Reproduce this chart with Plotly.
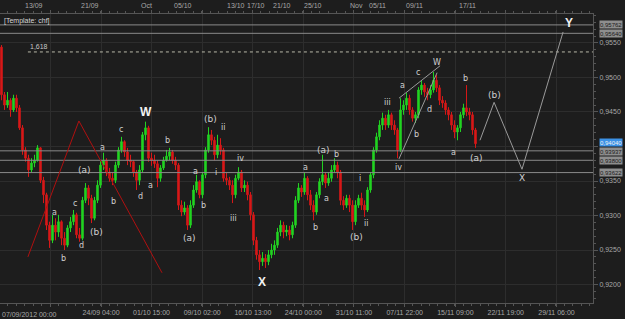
import plotly.graph_objects as go

# ---------------- data ----------------
open_ = [0.9544, 0.9475, 0.9460, 0.9467, 0.9453, 0.9470, 0.9456, 0.9427, 0.9395, 0.9383,
         0.9366, 0.9376, 0.9380, 0.9398, 0.9351, 0.9330, 0.9286, 0.9264, 0.9286, 0.9276,
         0.9291, 0.9267, 0.9257, 0.9282, 0.9291, 0.9301, 0.9272, 0.9267, 0.9322, 0.9340,
         0.9325, 0.9296, 0.9322, 0.9344, 0.9373, 0.9380, 0.9363, 0.9354, 0.9351, 0.9373,
         0.9395, 0.9407, 0.9392, 0.9380, 0.9378, 0.9363, 0.9351, 0.9366, 0.9417, 0.9427,
         0.9383, 0.9380, 0.9375, 0.9354, 0.9369, 0.9380, 0.9386, 0.9392, 0.9380, 0.9373,
         0.9315, 0.9305, 0.9311, 0.9286, 0.9315, 0.9337, 0.9349, 0.9330, 0.9359, 0.9395,
         0.9417, 0.9409, 0.9388, 0.9402, 0.9395, 0.9354, 0.9351, 0.9344, 0.9330, 0.9354,
         0.9363, 0.9340, 0.9344, 0.9330, 0.9301, 0.9264, 0.9243, 0.9233, 0.9238, 0.9233,
         0.9243, 0.9250, 0.9257, 0.9276, 0.9286, 0.9276, 0.9279, 0.9272, 0.9286, 0.9322,
         0.9340, 0.9334, 0.9354, 0.9330, 0.9315, 0.9305, 0.9330, 0.9349, 0.9359, 0.9347,
         0.9354, 0.9366, 0.9373, 0.9363, 0.9322, 0.9315, 0.9325, 0.9315, 0.9291, 0.9315,
         0.9325, 0.9315, 0.9308, 0.9337, 0.9359, 0.9395, 0.9414, 0.9431, 0.9441, 0.9431,
         0.9446, 0.9431, 0.9424, 0.9395, 0.9453, 0.9460, 0.9470, 0.9453, 0.9441, 0.9446,
         0.9482, 0.9489, 0.9479, 0.9475, 0.9482, 0.9496, 0.9485, 0.9467, 0.9463, 0.9453,
         0.9446, 0.9431, 0.9421, 0.9427, 0.9446, 0.9456, 0.9450, 0.9446, 0.9424]

high = [0.9547, 0.9479, 0.9479, 0.9470, 0.9475, 0.9475, 0.9460, 0.9431, 0.9399, 0.9388,
        0.9383, 0.9388, 0.9402, 0.9399, 0.9356, 0.9333, 0.9291, 0.9301, 0.9296, 0.9301,
        0.9293, 0.9276, 0.9286, 0.9298, 0.9308, 0.9304, 0.9282, 0.9327, 0.9347, 0.9344,
        0.9330, 0.9327, 0.9351, 0.9380, 0.9391, 0.9383, 0.9369, 0.9363, 0.9378, 0.9399,
        0.9414, 0.9409, 0.9398, 0.9388, 0.9380, 0.9366, 0.9373, 0.9421, 0.9436, 0.9430,
        0.9391, 0.9388, 0.9380, 0.9373, 0.9385, 0.9395, 0.9398, 0.9395, 0.9385, 0.9376,
        0.9322, 0.9320, 0.9315, 0.9322, 0.9344, 0.9359, 0.9351, 0.9363, 0.9399, 0.9428,
        0.9424, 0.9414, 0.9417, 0.9412, 0.9398, 0.9362, 0.9356, 0.9351, 0.9359, 0.9370,
        0.9366, 0.9351, 0.9349, 0.9334, 0.9305, 0.9269, 0.9250, 0.9247, 0.9244, 0.9250,
        0.9259, 0.9264, 0.9282, 0.9293, 0.9291, 0.9286, 0.9285, 0.9291, 0.9328, 0.9347,
        0.9344, 0.9363, 0.9357, 0.9337, 0.9322, 0.9334, 0.9354, 0.9388, 0.9363, 0.9363,
        0.9373, 0.9383, 0.9378, 0.9366, 0.9328, 0.9330, 0.9330, 0.9322, 0.9322, 0.9330,
        0.9333, 0.9322, 0.9341, 0.9363, 0.9399, 0.9420, 0.9438, 0.9449, 0.9446, 0.9453,
        0.9449, 0.9438, 0.9427, 0.9470, 0.9467, 0.9478, 0.9475, 0.9457, 0.9450, 0.9486,
        0.9496, 0.9492, 0.9485, 0.9489, 0.9508, 0.9504, 0.9489, 0.9473, 0.9467, 0.9457,
        0.9450, 0.9438, 0.9431, 0.9450, 0.9462, 0.9489, 0.9456, 0.9450, 0.9427]

low = [0.9467, 0.9453, 0.9456, 0.9443, 0.9450, 0.9450, 0.9424, 0.9388, 0.9378, 0.9356,
       0.9363, 0.9370, 0.9378, 0.9347, 0.9318, 0.9279, 0.9253, 0.9260, 0.9264, 0.9269,
       0.9257, 0.9250, 0.9254, 0.9276, 0.9286, 0.9267, 0.9262, 0.9264, 0.9318, 0.9315,
       0.9289, 0.9293, 0.9318, 0.9340, 0.9366, 0.9357, 0.9349, 0.9344, 0.9347, 0.9369,
       0.9391, 0.9385, 0.9373, 0.9370, 0.9356, 0.9337, 0.9344, 0.9363, 0.9409, 0.9378,
       0.9372, 0.9369, 0.9341, 0.9349, 0.9366, 0.9378, 0.9380, 0.9375, 0.9366, 0.9308,
       0.9299, 0.9301, 0.9279, 0.9282, 0.9311, 0.9333, 0.9325, 0.9325, 0.9354, 0.9391,
       0.9402, 0.9380, 0.9383, 0.9388, 0.9349, 0.9344, 0.9337, 0.9318, 0.9325, 0.9351,
       0.9334, 0.9334, 0.9322, 0.9293, 0.9257, 0.9236, 0.9221, 0.9227, 0.9224, 0.9228,
       0.9238, 0.9243, 0.9253, 0.9270, 0.9267, 0.9270, 0.9264, 0.9267, 0.9282, 0.9318,
       0.9327, 0.9330, 0.9322, 0.9308, 0.9293, 0.9301, 0.9325, 0.9344, 0.9340, 0.9343,
       0.9349, 0.9362, 0.9354, 0.9315, 0.9308, 0.9311, 0.9305, 0.9279, 0.9286, 0.9311,
       0.9308, 0.9298, 0.9305, 0.9333, 0.9354, 0.9391, 0.9409, 0.9424, 0.9424, 0.9427,
       0.9424, 0.9417, 0.9383, 0.9392, 0.9446, 0.9453, 0.9446, 0.9436, 0.9434, 0.9441,
       0.9475, 0.9472, 0.9467, 0.9470, 0.9478, 0.9479, 0.9460, 0.9456, 0.9446, 0.9438,
       0.9424, 0.9412, 0.9409, 0.9421, 0.9441, 0.9444, 0.9438, 0.9417, 0.9398]

close = [0.9475, 0.9460, 0.9467, 0.9453, 0.9470, 0.9456, 0.9427, 0.9395, 0.9383, 0.9366,
         0.9376, 0.9380, 0.9398, 0.9351, 0.9330, 0.9286, 0.9264, 0.9286, 0.9276, 0.9291,
         0.9267, 0.9257, 0.9282, 0.9291, 0.9301, 0.9272, 0.9267, 0.9322, 0.9340, 0.9325,
         0.9296, 0.9322, 0.9344, 0.9373, 0.9380, 0.9363, 0.9354, 0.9351, 0.9373, 0.9395,
         0.9407, 0.9392, 0.9380, 0.9378, 0.9363, 0.9351, 0.9366, 0.9417, 0.9427, 0.9383,
         0.9380, 0.9375, 0.9354, 0.9369, 0.9380, 0.9386, 0.9392, 0.9380, 0.9373, 0.9315,
         0.9305, 0.9311, 0.9286, 0.9315, 0.9337, 0.9349, 0.9330, 0.9359, 0.9395, 0.9417,
         0.9409, 0.9388, 0.9402, 0.9395, 0.9354, 0.9351, 0.9344, 0.9330, 0.9354, 0.9363,
         0.9340, 0.9344, 0.9330, 0.9301, 0.9264, 0.9243, 0.9233, 0.9238, 0.9233, 0.9243,
         0.9250, 0.9257, 0.9276, 0.9286, 0.9276, 0.9279, 0.9272, 0.9286, 0.9322, 0.9340,
         0.9334, 0.9354, 0.9330, 0.9315, 0.9305, 0.9330, 0.9349, 0.9359, 0.9347, 0.9354,
         0.9366, 0.9373, 0.9363, 0.9322, 0.9315, 0.9325, 0.9315, 0.9291, 0.9315, 0.9325,
         0.9315, 0.9308, 0.9337, 0.9359, 0.9395, 0.9414, 0.9431, 0.9441, 0.9431, 0.9446,
         0.9431, 0.9424, 0.9395, 0.9453, 0.9460, 0.9470, 0.9453, 0.9441, 0.9446, 0.9482,
         0.9489, 0.9479, 0.9475, 0.9482, 0.9496, 0.9485, 0.9467, 0.9463, 0.9453, 0.9446,
         0.9431, 0.9421, 0.9427, 0.9446, 0.9456, 0.9450, 0.9446, 0.9424, 0.9404]

bars = list(range(len(close)))

# horizontal levels with their boxed price labels
level_prices = [0.95762, 0.95640, 0.93937, 0.93800, 0.93622]
current_price = 0.94040
fib_price = 0.9537
fib_text = "1,618"

# price axis (the 0,9400 label is covered by the price boxes in the reference)
y_tick_values = [0.9200, 0.9250, 0.9300, 0.9350, 0.9400, 0.9450, 0.9500, 0.9550]
y_tick_text = ["0,9200", "0,9250", "0,9300", "0,9350", "", "0,9450", "0,9500", "0,9550"]

# time axis labels (bar position, text)
bottom_tick_bars = [16.2, 33.2, 50.0, 66.9, 83.8, 100.6, 117.5, 134.4, 151.3, 168.1, 185.0]
bottom_tick_text = ["", "24/09 04:00", "01/10 15:00", "09/10 02:00", "16/10 13:00",
                    "24/10 00:00", "31/10 11:00", "07/11 22:00", "15/11 09:00",
                    "22/11 19:00", "29/11 06:00"]
first_time_label = "07/09/2012 00:00"
top_label_bars = [10.8, 29.5, 48.3, 60.5, 78.0, 84.8, 93.5, 103.8, 118.2, 125.3, 137.8, 155.3]
top_label_text = ["13/09", "21/09", "Oct", "05/10", "13/10", "17/10", "21/10", "25/10",
                  "Nov", "05/11", "09/11", "17/11"]

# Elliott wave labels: (text, bar, price, kind)
wave_labels = [
    ("a", 17.5, 0.9305, "s"), ("b", 20.8, 0.9238, "s"), ("c", 24.5, 0.9318, "s"),
    ("d", 26.5, 0.9256, "s"), ("(a)", 27.5, 0.9366, "m"), ("(b)", 31.5, 0.9276, "m"),
    ("a", 33.8, 0.9398, "s"), ("b", 37.2, 0.9321, "s"), ("c", 39.8, 0.9425, "s"),
    ("d", 46.2, 0.9328, "s"), ("W", 48.2, 0.9450, "L"), ("a", 49.5, 0.9343, "s"),
    ("b", 55.2, 0.9409, "s"), ("(a)", 62.5, 0.9267, "m"), ("a", 64.5, 0.9364, "s"),
    ("b", 67.2, 0.9315, "s"), ("(b)", 69.8, 0.9440, "m"), ("i", 71.5, 0.9363, "s"),
    ("ii", 73.8, 0.9427, "s"), ("iii", 77.2, 0.9296, "s"), ("iv", 79.8, 0.9382, "s"),
    ("X", 86.8, 0.9204, "L"), ("a", 101.5, 0.9369, "s"), ("b", 104.8, 0.9283, "s"),
    ("(a)", 107.5, 0.9395, "m"), ("a", 108.5, 0.9325, "s"), ("b", 111.8, 0.9389, "s"),
    ("(b)", 118.5, 0.9269, "m"), ("i", 119.5, 0.9354, "s"), ("ii", 121.5, 0.9288, "s"),
    ("iii", 128.8, 0.9464, "s"), ("iv", 132.2, 0.9370, "s"), ("a", 133.8, 0.9489, "s"),
    ("b", 138.5, 0.9417, "s"), ("c", 138.8, 0.9507, "s"), ("d", 142.8, 0.9454, "s"),
    ("W", 145.2, 0.9522, "s"), ("a", 150.8, 0.9392, "s"), ("b", 154.8, 0.9499, "s"),
    ("(a)", 158.2, 0.9383, "m"), ("(b)", 164.5, 0.9475, "m"), ("X", 173.5, 0.9354, "m"),
    ("Y", 189.2, 0.9579, "L"),
]

# projected path (b) - X - Y
proj_bars = [159.5, 164.2, 173.5, 187.2]
proj_prices = [0.9409, 0.9464, 0.9367, 0.9566]
# red triangle
tri_bars = [8.8, 25.8, 53.5]
tri_prices = [0.9240, 0.9437, 0.9217]
# wedge lines near W
wedge1_bars = [132.5, 146.2]
wedge1_prices = [0.9470, 0.9517]
wedge2_bars = [132.5, 145.2]
wedge2_prices = [0.9382, 0.9507]

# ---------------- styling ----------------
BG = "#1d1d1d"
GRID = "#2d2d2d"
FRAME = "#555555"
TXT = "#a8a8a8"
LBL = "#d0d0d0"
FONT = "Liberation Sans, Arial, sans-serif"
LFONT = "DejaVu Sans, sans-serif"
X_RANGE = [-0.5, 197.17]
Y_RANGE = [0.91732, 0.95920]

fig = go.Figure()

# horizontal level lines
for p in level_prices:
    fig.add_trace(go.Scatter(x=X_RANGE, y=[p, p], mode="lines",
                             line=dict(color="#8a8a8a", width=1), hoverinfo="skip"))
# fib dotted line
fig.add_trace(go.Scatter(x=[tri_bars[0], X_RANGE[1]], y=[fib_price, fib_price], mode="lines",
                         line=dict(color="#b8b8a8", width=1, dash="dot"), hoverinfo="skip"))
# red triangle
fig.add_trace(go.Scatter(x=tri_bars, y=tri_prices, mode="lines",
                         line=dict(color="#b01010", width=1), hoverinfo="skip"))

fig.add_trace(go.Candlestick(
    x=bars, open=open_, high=high, low=low, close=close,
    increasing=dict(line=dict(color="#22d422", width=1), fillcolor="#22d422"),
    decreasing=dict(line=dict(color="#d81818", width=1), fillcolor="#d81818"),
    whiskerwidth=0, hoverinfo="skip"))

# wedge + projection lines
for xs, ys in [(wedge1_bars, wedge1_prices), (wedge2_bars, wedge2_prices), (proj_bars, proj_prices)]:
    fig.add_trace(go.Scatter(x=xs, y=ys, mode="lines",
                             line=dict(color="#9a9a9a", width=1), hoverinfo="skip"))

annotations = []
for text, b, p, kind in wave_labels:
    if kind == "L":
        font = dict(family=FONT, size=12, color="#f2f2f2")
        text = "<b>" + text + "</b>"
    elif kind == "m":
        font = dict(family=LFONT, size=9, color=LBL)
    else:
        font = dict(family=LFONT, size=8, color=LBL)
    annotations.append(dict(x=b, y=p, xref="x", yref="y", text=text, showarrow=False,
                            font=font, xanchor="center", yanchor="middle"))

annotations.append(dict(x=tri_bars[0], y=fib_price, xref="x", yref="y", text=fib_text,
                        showarrow=False, xanchor="left", yanchor="bottom", yshift=0,
                        font=dict(family=FONT, size=7, color="#c8c8c8")))
annotations.append(dict(x=0, y=1, xref="paper", yref="paper", text="[Template: chf]",
                        showarrow=False, xanchor="left", yanchor="top", xshift=2, yshift=-1,
                        font=dict(family=FONT, size=7, color="#d8d8d8")))
for b, t in zip(top_label_bars, top_label_text):
    annotations.append(dict(x=b, y=1, xref="x", yref="paper", text=t, showarrow=False,
                            xanchor="center", yanchor="middle", yshift=9,
                            font=dict(family=FONT, size=7, color=TXT)))
annotations.append(dict(x=0, y=0, xref="paper", yref="paper", text=first_time_label,
                        showarrow=False, xanchor="left", yanchor="middle", yshift=-11,
                        font=dict(family=FONT, size=7, color=TXT)))
# boxed price labels (small so that the stacked ones just touch, as in MT4)
box_shift = {0.93937: -1, 0.93800: 0}
for p in level_prices:
    annotations.append(dict(x=1, y=p, xref="paper", yref="y", text="{:.5f}".format(p).replace(".", ","),
                            showarrow=False, xanchor="left", yanchor="middle", xshift=6,
                            yshift=box_shift.get(p, 0), height=7,
                            bgcolor="#8e8e8e", borderpad=0,
                            font=dict(family=FONT, size=6, color="#1a1a1a")))
annotations.append(dict(x=1, y=current_price, xref="paper", yref="y",
                        text="{:.5f}".format(current_price).replace(".", ","),
                        showarrow=False, xanchor="left", yanchor="middle", xshift=6,
                        yshift=1, height=7,
                        bgcolor="#3c92e6", borderpad=0,
                        font=dict(family=FONT, size=6, color="#f0f0f0")))

fig.update_layout(
    width=625, height=319,
    margin=dict(l=0, r=32, t=14, b=16, pad=0),
    paper_bgcolor=BG, plot_bgcolor=BG,
    showlegend=False,
    separators=", ",
    font=dict(family=FONT, size=7, color=TXT),
    annotations=annotations,
    xaxis=dict(range=X_RANGE, rangeslider=dict(visible=False),
               tickmode="array", tickvals=bottom_tick_bars, ticktext=bottom_tick_text,
               ticks="outside", ticklen=3, tickcolor=FRAME,
               tickfont=dict(family=FONT, size=7, color=TXT),
               showgrid=True, gridcolor=GRID, gridwidth=1, zeroline=False,
               showline=True, linecolor=FRAME, linewidth=1, mirror="ticks",
               minor=dict(tick0=16.2, dtick=2.81, ticks="outside", ticklen=2,
                          tickcolor=FRAME, showgrid=False)),
    yaxis=dict(range=Y_RANGE, side="right", tickmode="array", tickvals=y_tick_values,
               ticktext=y_tick_text, ticks="outside", ticklen=4, tickcolor=FRAME,
               tickfont=dict(family=FONT, size=7, color=TXT),
               showgrid=True, gridcolor=GRID, gridwidth=1, zeroline=False,
               showline=True, linecolor=FRAME, linewidth=1, mirror=True,
               minor=dict(dtick=0.001, ticks="outside", ticklen=2, tickcolor=FRAME,
                          showgrid=False)),
)

fig.write_html("out.html")
